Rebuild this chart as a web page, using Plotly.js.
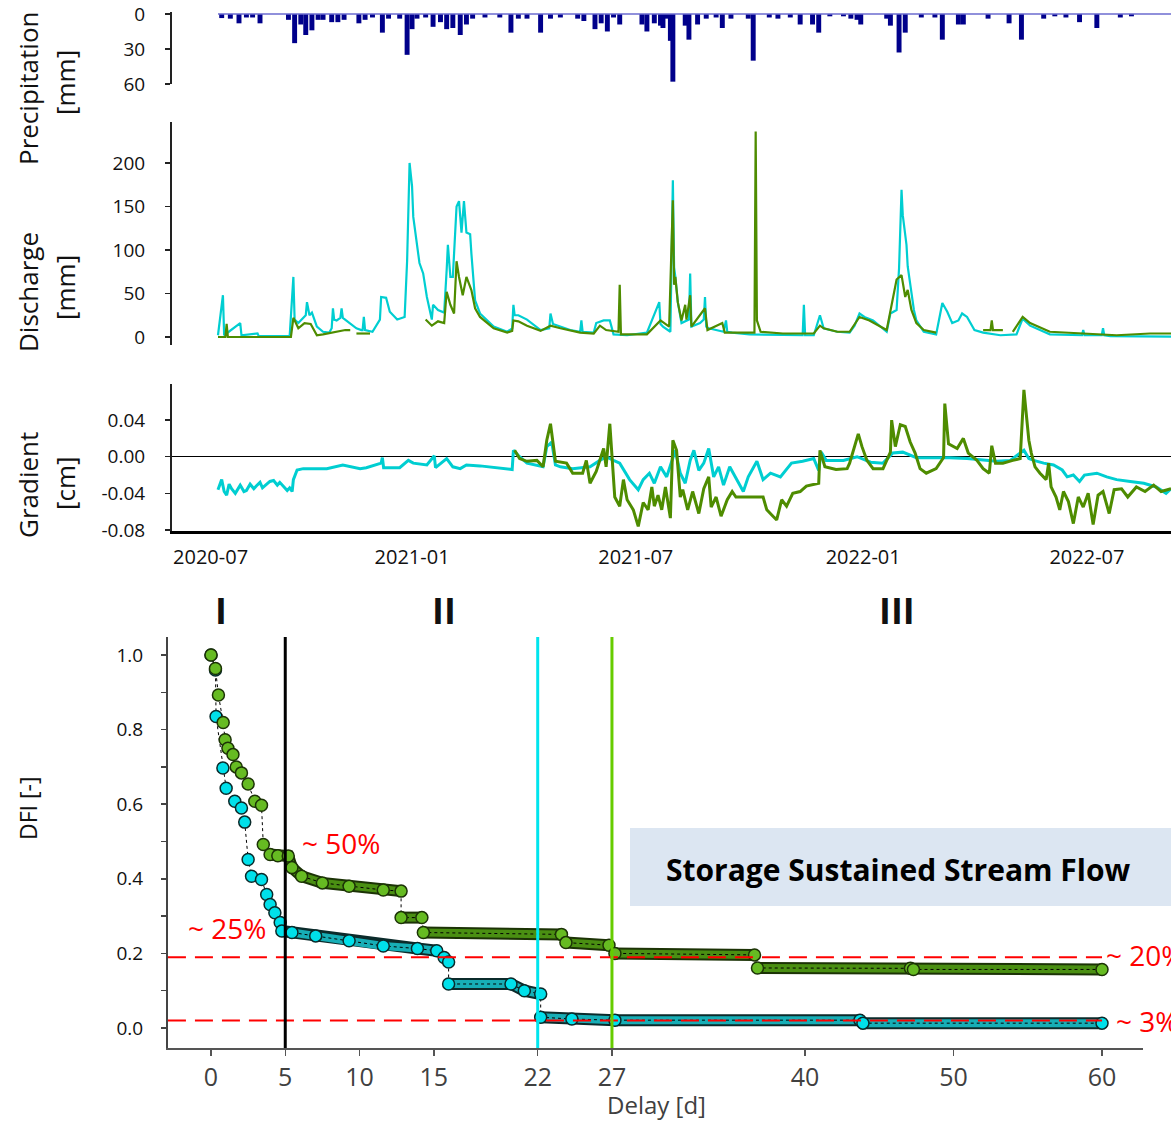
<!DOCTYPE html>
<html><head><meta charset="utf-8">
<script src="https://cdn.plot.ly/plotly-3.0.1.min.js"></script>
<style>html,body{margin:0;padding:0;background:#fff}#chart{width:1171px;height:1123px}</style>
</head><body><div id="chart"></div>
<script>
// ---------- DATA (day = days since 2020-07-01) ----------
const precipDay = [30,37,44,50,55,61,84,89,94,98,103,108,112,119,124,129,141,146,152,160,165,174,180,184,188,195,201,207,212,217,223,228,233,243,255,264,270,277,288,296,304,318,323,332,337,342,347,352,370,374,380,385,387,390,393,395,405,408,415,422,430,435,442,456,460,473,480,490,498,508,513,522,533,539,544,547,568,571,578,583,596,607,613,626,630,650,667,677,695,704,713,724,738,757,766];
const precipMm  = [3.5,4,8,3,3,8,5,25,9,18,14,5,5,7,7,5,8,5,3,16,4,4,35,13,4,3,11,7,13,12,18,9,4,3,3,16,4,4,16,4,3,4,6,13,8,15,3,9,9,15,8,10,12,4,23,58,10,22,9,4,3,12,4,4,40,3,4,3,9,9,16,2,2,4,5,9,4,10,33,16,3,3,22,9,9,4,8,22,4,2,3,7,12,3,2];

const dischargeCyan = [[27,2],[31,48],[32,2],[45,16],[46,2],[59,4],[60,1],[85,1],[88,69],[89,20],[92,16],[98,25],[99,40],[101,25],[103,28],[107,12],[112,6],[117,5],[119,10],[120,33],[121,20],[123,19],[126,22],[127,33],[128,22],[131,19],[139,10],[143,8],[144,8],[145,23],[146,8],[152,6],[158,20],[159,46],[163,45],[166,29],[172,20],[178,23],[180,87],[182,200],[184,173],[185,138],[188,106],[190,85],[193,73],[196,46],[200,20],[201,37],[205,31],[210,28],[212,77],[213,106],[215,69],[217,69],[220,150],[222,156],[224,120],[226,156],[228,120],[231,118],[232,96],[235,42],[239,27],[250,12],[261,6],[265,10],[266,37],[267,25],[270,25],[277,20],[288,8],[295,10],[296,27],[298,15],[312,8],[320,6],[321,19],[322,6],[331,5],[333,16],[339,19],[344,19],[347,3],[358,2],[374,5],[384,40],[385,15],[387,12],[393,6],[395,180],[396,80],[397,69],[399,40],[402,16],[408,20],[409,73],[410,12],[417,16],[420,20],[421,46],[422,12],[424,10],[436,6],[438,19],[439,6],[443,5],[457,3],[484,2],[500,2],[501,37],[502,2],[509,2],[514,25],[517,10],[528,6],[538,5],[542,13],[546,27],[550,23],[557,19],[568,6],[571,27],[576,31],[578,79],[580,169],[581,140],[584,106],[585,81],[588,54],[590,31],[592,19],[598,6],[608,3],[613,39],[617,29],[621,16],[626,19],[629,27],[633,23],[639,8],[646,5],[660,2],[673,3],[678,21],[684,13],[695,6],[700,3],[726,2],[727,8],[728,2],[742,2],[743,10],[744,2],[749,1],[798,0.5]];

const dischargeGreen = [[27,0],[33,0],[34,15],[35,0],[86,0],[88,22],[92,10],[97,16],[102,15],[107,2],[112,3],[120,5],[125,6],[130,8],[134,8],[136,null],[139,4],[148,4],[150,4],[152,null],[195,20],[200,13],[205,18],[210,16],[212,52],[215,37],[218,27],[220,87],[222,69],[225,48],[228,69],[232,54],[235,33],[239,23],[250,10],[261,5],[265,7],[266,19],[270,18],[277,13],[288,7],[296,13],[304,10],[320,5],[331,4],[336,13],[341,8],[351,6],[352,60],[353,3],[374,3],[385,19],[392,12],[395,157],[396,60],[397,69],[399,40],[402,19],[405,37],[406,20],[409,48],[410,12],[421,33],[423,8],[435,16],[437,5],[461,5],[462,236],[463,19],[466,6],[484,4],[509,4],[514,13],[517,10],[528,6],[538,6],[546,23],[554,19],[568,8],[576,66],[580,71],[583,46],[585,54],[588,31],[592,16],[598,8],[608,5],[612,null],[646,8],[652,8],[653,19],[654,8],[662,8],[665,null],[670,6],[678,23],[684,16],[700,6],[727,4],[754,2],[781,4],[798,4]];

const gradientCyan = [[27,-0.036],[30,-0.025],[32,-0.038],[34,-0.042],[36,-0.03],[38,-0.035],[41,-0.04],[45,-0.031],[48,-0.038],[50,-0.037],[53,-0.03],[56,-0.035],[58,-0.032],[61,-0.028],[63,-0.034],[66,-0.03],[69,-0.027],[72,-0.026],[75,-0.031],[77,-0.028],[80,-0.033],[83,-0.037],[85,-0.034],[87,-0.038],[88,-0.025],[91,-0.0145],[96,-0.013],[104,-0.013],[115,-0.013],[128,-0.009],[135,-0.011],[142,-0.013],[147,-0.012],[159,-0.007],[160,-0.001],[161,-0.012],[174,-0.012],[181,-0.004],[185,-0.007],[196,-0.009],[202,0.001],[203,-0.012],[212,-0.002],[217,-0.011],[223,-0.013],[228,-0.009],[239,-0.01],[250,-0.012],[265,-0.014],[266,0.007],[271,0],[277,-0.007],[290,-0.011],[293,0.011],[297,0.016],[300,-0.009],[304,-0.011],[314,-0.013],[328,-0.011],[336,-0.004],[341,0],[347,-0.004],[352,-0.007],[360,-0.025],[367,-0.036],[371,-0.025],[376,-0.018],[380,-0.029],[385,-0.011],[390,-0.022],[394,-0.004],[397,0.007],[401,-0.018],[405,-0.029],[409,-0.004],[412,0.007],[416,-0.015],[420,-0.007],[424,0.009],[428,-0.022],[432,-0.011],[436,-0.031],[441,-0.011],[447,-0.025],[452,-0.038],[456,-0.022],[463,-0.005],[468,-0.025],[474,-0.018],[482,-0.022],[491,-0.007],[500,-0.005],[509,-0.002],[513,-0.015],[515,0.005],[519,-0.004],[533,-0.004],[544,0],[555,-0.006],[565,-0.007],[573,0.004],[581,0.005],[592,-0.001],[606,-0.001],[619,-0.001],[633,-0.002],[646,-0.004],[657,-0.005],[668,-0.004],[679,0.007],[683,-0.002],[687,-0.004],[695,-0.007],[703,-0.009],[710,-0.0145],[714,-0.022],[719,-0.02],[724,-0.027],[728,-0.02],[738,-0.018],[746,-0.022],[754,-0.025],[765,-0.027],[776,-0.029],[786,-0.033],[794,-0.04],[798,-0.035]];

const gradientGreen = [[267,0.007],[271,-0.002],[277,-0.005],[285,-0.004],[290,-0.011],[293,0.018],[296,0.036],[298,0.018],[300,-0.005],[309,-0.007],[314,-0.018],[322,-0.018],[325,-0.004],[328,-0.029],[333,-0.016],[339,0.009],[341,-0.011],[344,0.036],[346,-0.007],[348,-0.044],[352,-0.054],[355,-0.025],[358,-0.047],[363,-0.058],[367,-0.076],[371,-0.05],[375,-0.058],[378,-0.033],[380,-0.054],[383,-0.042],[386,-0.058],[389,-0.033],[393,-0.067],[395,0.018],[398,0.007],[401,-0.044],[403,-0.036],[407,-0.058],[411,-0.038],[416,-0.062],[420,-0.035],[424,-0.022],[426,-0.055],[430,-0.044],[434,-0.065],[439,-0.047],[443,-0.038],[446,-0.044],[468,-0.044],[471,-0.058],[476,-0.065],[479,-0.069],[483,-0.047],[487,-0.054],[492,-0.04],[498,-0.038],[503,-0.032],[509,-0.03],[513,-0.029],[514,0.007],[518,-0.011],[527,-0.014],[536,-0.013],[538,-0.007],[542,0.011],[545,0.025],[548,0.011],[552,-0.004],[557,-0.013],[565,-0.013],[571,0.005],[572,0.04],[575,0.011],[579,0.035],[583,0.033],[587,0.016],[591,0.004],[595,-0.013],[600,-0.018],[608,-0.013],[614,-0.001],[615,0.058],[618,0.014],[625,0.009],[630,0.02],[634,0.004],[641,-0.004],[646,-0.013],[651,-0.018],[653,0.012],[656,-0.007],[662,-0.007],[670,-0.004],[676,-0.002],[679,0.073],[681,0.047],[683,0.018],[685,0.004],[688,-0.011],[692,-0.018],[697,-0.025],[699,-0.007],[701,-0.033],[705,-0.044],[708,-0.058],[711,-0.038],[715,-0.049],[719,-0.073],[723,-0.044],[727,-0.055],[731,-0.04],[735,-0.074],[739,-0.042],[743,-0.038],[748,-0.062],[752,-0.036],[758,-0.035],[763,-0.044],[770,-0.033],[777,-0.038],[784,-0.031],[790,-0.038],[798,-0.035]];

const dateTickDays = [21, 184, 365, 549, 730];
const dateTickLabels = ['2020-07','2021-01','2021-07','2022-01','2022-07'];

// DFI vs delay
const dfiGreenPoints = [[0,1.0],[0.3,0.964],[0.5,0.893],[0.82,0.819],[0.95,0.773],[1.14,0.75],[1.48,0.733],[1.7,0.70],[2.05,0.684],[2.5,0.654],[2.95,0.608],[3.4,0.597],[3.52,0.492],[3.98,0.465],[4.5,0.462],[5.2,0.461],[5.45,0.43],[6.1,0.407],[7.5,0.389],[9.3,0.38],[11.6,0.37],[12.8,0.367],[12.8,0.296],[14.2,0.296],[14.3,0.256],[23.6,0.251],[23.9,0.229],[26.8,0.222],[27.2,0.2],[36.6,0.196],[36.8,0.161],[47.1,0.16],[47.3,0.157],[60,0.157]];
const dfiGreenBand = [[3.98,0.465],[5.2,0.461],[5.45,0.43],[6.1,0.407],[7.5,0.389],[9.3,0.38],[11.6,0.37],[12.8,0.367],[null,null],[12.8,0.296],[14.2,0.296],[null,null],[14.3,0.256],[23.6,0.251],[null,null],[23.9,0.229],[26.8,0.222],[null,null],[27.2,0.2],[36.6,0.196],[null,null],[36.8,0.161],[47.1,0.16],[47.3,0.157],[60,0.157]];
const dfiCyanPoints = [[0,1.0],[0.3,0.96],[0.34,0.835],[0.8,0.697],[1.02,0.643],[1.6,0.608],[2.05,0.59],[2.27,0.552],[2.5,0.452],[2.73,0.407],[3.4,0.398],[3.75,0.358],[3.98,0.331],[4.3,0.309],[4.66,0.283],[4.77,0.26],[5.45,0.256],[7.05,0.247],[9.3,0.234],[11.6,0.22],[13.9,0.213],[15.2,0.207],[15.7,0.189],[16.0,0.177],[16.0,0.118],[20.2,0.118],[21.1,0.10],[22.2,0.091],[22.2,0.029],[24.3,0.024],[27.2,0.021],[43.7,0.021],[43.9,0.013],[60,0.013]];
const dfiCyanBand = [[4.77,0.26],[5.45,0.256],[7.05,0.247],[9.3,0.234],[11.6,0.22],[13.9,0.213],[15.2,0.207],[null,null],[16.0,0.118],[20.2,0.118],[21.1,0.10],[22.2,0.091],[null,null],[22.2,0.029],[24.3,0.024],[27.2,0.021],[43.7,0.021],[43.9,0.013],[60,0.013]];
const delayTicks = [0,5,10,15,22,27,40,50,60];
const dfiTicks = [0,0.2,0.4,0.6,0.8,1.0];
const thresholdLevels = [0.19, 0.02];
const stageLines = [{d:5,c:'#000000'},{d:22,c:'#00e5ee'},{d:27,c:'#66cc00'}];

// ---------- BUILD ----------
const START = Date.UTC(2020,6,1), DAY = 86400000;
const toDate = d => (d===null ? null : new Date(START + d*DAY).toISOString().replace('T',' ').slice(0,19));
const W = 1171, H = 1123;
const px = x => x / W, py = y => 1 - y / H;
const FONT = 'Open Sans, Noto Sans, DejaVu Sans, sans-serif';
const CYAN = '#00CED1', GREEN = '#4E8C00';

const traces = [
  {type:'bar', x:precipDay.map(toDate), y:precipMm, width:4*DAY, marker:{color:'#00008B', line:{width:0}}, xaxis:'x', yaxis:'y'},
  {type:'scatter', mode:'lines', x:dischargeCyan.map(p=>toDate(p[0])), y:dischargeCyan.map(p=>p[1]), line:{color:CYAN, width:2.2}, xaxis:'x', yaxis:'y2'},
  {type:'scatter', mode:'lines', x:dischargeGreen.map(p=>toDate(p[0])), y:dischargeGreen.map(p=>p[1]), line:{color:GREEN, width:2.2}, connectgaps:false, xaxis:'x', yaxis:'y2'},
  {type:'scatter', mode:'lines', x:gradientCyan.map(p=>toDate(p[0])), y:gradientCyan.map(p=>p[1]), line:{color:CYAN, width:3}, xaxis:'x', yaxis:'y3'},
  {type:'scatter', mode:'lines', x:gradientGreen.map(p=>toDate(p[0])), y:gradientGreen.map(p=>p[1]), line:{color:GREEN, width:3}, xaxis:'x', yaxis:'y3'},
  // DFI bands
  {type:'scatter', mode:'lines', x:dfiCyanBand.map(p=>p[0]), y:dfiCyanBand.map(p=>p[1]), line:{color:'#0b2b2b', width:12}, connectgaps:false, xaxis:'x2', yaxis:'y4'},
  {type:'scatter', mode:'lines', x:dfiCyanBand.map(p=>p[0]), y:dfiCyanBand.map(p=>p[1]), line:{color:'#17aeb6', width:8}, connectgaps:false, xaxis:'x2', yaxis:'y4'},
  {type:'scatter', mode:'lines', x:dfiGreenBand.map(p=>p[0]), y:dfiGreenBand.map(p=>p[1]), line:{color:'#1c3306', width:12}, connectgaps:false, xaxis:'x2', yaxis:'y4'},
  {type:'scatter', mode:'lines', x:dfiGreenBand.map(p=>p[0]), y:dfiGreenBand.map(p=>p[1]), line:{color:'#4a8f12', width:8}, connectgaps:false, xaxis:'x2', yaxis:'y4'},
  // DFI points
  {type:'scatter', mode:'lines+markers', x:dfiCyanPoints.map(p=>p[0]), y:dfiCyanPoints.map(p=>p[1]), line:{color:'#000', width:1, dash:'dot'}, marker:{size:12, color:'#00e0ea', line:{color:'#0a2a2a', width:1.5}}, xaxis:'x2', yaxis:'y4'},
  {type:'scatter', mode:'lines+markers', x:dfiGreenPoints.map(p=>p[0]), y:dfiGreenPoints.map(p=>p[1]), line:{color:'#000', width:1, dash:'dot'}, marker:{size:12, color:'#66bb22', line:{color:'#1c3306', width:1.5}}, xaxis:'x2', yaxis:'y4'}
];

const tickFont = {family:FONT, size:19, color:'#111'};
const yBase = {showgrid:false, zeroline:false, showline:true, linecolor:'#222', linewidth:2, ticks:'outside', ticklen:5, tickwidth:1.5, tickcolor:'#222', tickfont:tickFont, ticklabelstandoff:16, anchor:'x', fixedrange:true};

const shapes = [
  {type:'line', xref:'x', yref:'y', x0:toDate(27), x1:toDate(798), y0:0, y1:0, line:{color:'#6b6bcf', width:1.5}},
  {type:'rect', xref:'paper', yref:'paper', x0:px(630), x1:px(1175), y0:py(906), y1:py(828), fillcolor:'#dce6f2', line:{width:0}, layer:'below'}
];
thresholdLevels.forEach(v => shapes.push({type:'line', xref:'x2', yref:'y4', x0:-2.9, x1:60, y0:v, y1:v, line:{color:'#ff0000', width:2, dash:'18px,9px'}}));
stageLines.forEach(s => shapes.push({type:'line', xref:'x2', yref:'y4 domain', x0:s.d, x1:s.d, y0:0, y1:1, line:{color:s.c, width:3}}));

const ann = (text, x, y, o={}) => Object.assign({text, xref:'paper', yref:'paper', x:px(x), y:py(y), xanchor:'center', yanchor:'middle', showarrow:false, font:{family:FONT, size:26, color:'#111'}}, o);
const annotations = [
  ann('Precipitation', 28, 88, {textangle:-90}),
  ann('[mm]', 65, 83, {textangle:-90}),
  ann('Discharge', 28, 292, {textangle:-90}),
  ann('[mm]', 65, 288, {textangle:-90}),
  ann('Gradient', 28, 485, {textangle:-90}),
  ann('[cm]', 65, 483, {textangle:-90}),
  ann('DFI [-]', 28, 808, {textangle:-90, font:{family:FONT, size:23, color:'#111'}}),
  ann('Delay [d]', 656, 1104, {font:{family:FONT, size:24, color:'#404040'}}),
  ann('<b>I</b>', 221, 610, {font:{family:FONT, size:36, color:'#111'}}),
  ann('<b>II</b>', 444, 610, {font:{family:FONT, size:36, color:'#111'}}),
  ann('<b>III</b>', 897, 610, {font:{family:FONT, size:36, color:'#111'}}),
  ann('~ 50%', 300, 843, {xanchor:'left', font:{family:FONT, size:28, color:'#ff0000'}}),
  ann('~ 25%', 186, 928, {xanchor:'left', font:{family:FONT, size:28, color:'#ff0000'}}),
  ann('~ 20%', 1104, 955, {xanchor:'left', font:{family:FONT, size:28, color:'#ff0000'}}),
  ann('~ 3%', 1114, 1021, {xanchor:'left', font:{family:FONT, size:28, color:'#ff0000'}}),
  ann('<b>Storage Sustained Stream Flow</b>', 898, 869, {font:{family:FONT, size:30, color:'#000'}})
];

const layout = {
  width:W, height:H, margin:{l:0, r:0, t:0, b:0}, showlegend:false,
  paper_bgcolor:'#fff', plot_bgcolor:'rgba(0,0,0,0)',
  font:{family:FONT},
  xaxis:{domain:[px(172),1], type:'date', range:[toDate(-10.2), toDate(798)], anchor:'y3', showgrid:false, zeroline:false, showline:true, linecolor:'#000', linewidth:2.5, ticks:'', tickvals:dateTickDays.map(toDate), ticktext:dateTickLabels, tickfont:{family:FONT, size:20, color:'#111'}, ticklabelstandoff:6, fixedrange:true},
  yaxis:Object.assign({}, yBase, {domain:[py(84), py(12)], range:[60,-1.7], tickvals:[0,30,60]}),
  yaxis2:Object.assign({}, yBase, {domain:[py(345), py(122)], range:[-9.2,247], tickvals:[0,50,100,150,200]}),
  yaxis3:Object.assign({}, yBase, {domain:[py(531), py(384)], range:[-0.0811,0.0794], tickvals:[-0.08,-0.04,0,0.04], ticktext:['-0.08','-0.04','0.00','0.04'], zeroline:true, zerolinecolor:'#000', zerolinewidth:1.3}),
  xaxis2:{domain:[px(168), px(1143)], anchor:'y4', range:[-2.896,62.76], tickvals:delayTicks, showgrid:false, zeroline:false, showline:true, linecolor:'#555', linewidth:2, ticks:'outside', ticklen:6, tickcolor:'#555', tickwidth:1.5, tickfont:{family:FONT, size:25, color:'#404040'}, ticklabelstandoff:0, fixedrange:true},
  yaxis4:{domain:[py(1048), py(637)], anchor:'x2', range:[-0.0536,1.0483], tickvals:dfiTicks, tickformat:'.1f', showgrid:false, zeroline:false, showline:true, linecolor:'#444', linewidth:2, ticks:'outside', ticklen:5, tickcolor:'#444', tickwidth:1.5, minor:{tickvals:[0.1,0.3,0.5,0.7,0.9], ticks:'outside', ticklen:5, tickcolor:'#444'}, tickfont:{family:FONT, size:19, color:'#111'}, ticklabelstandoff:14, fixedrange:true},
  shapes, annotations
};

Plotly.newPlot('chart', traces, layout, {staticPlot:true, displayModeBar:false});
</script>
</body></html>
